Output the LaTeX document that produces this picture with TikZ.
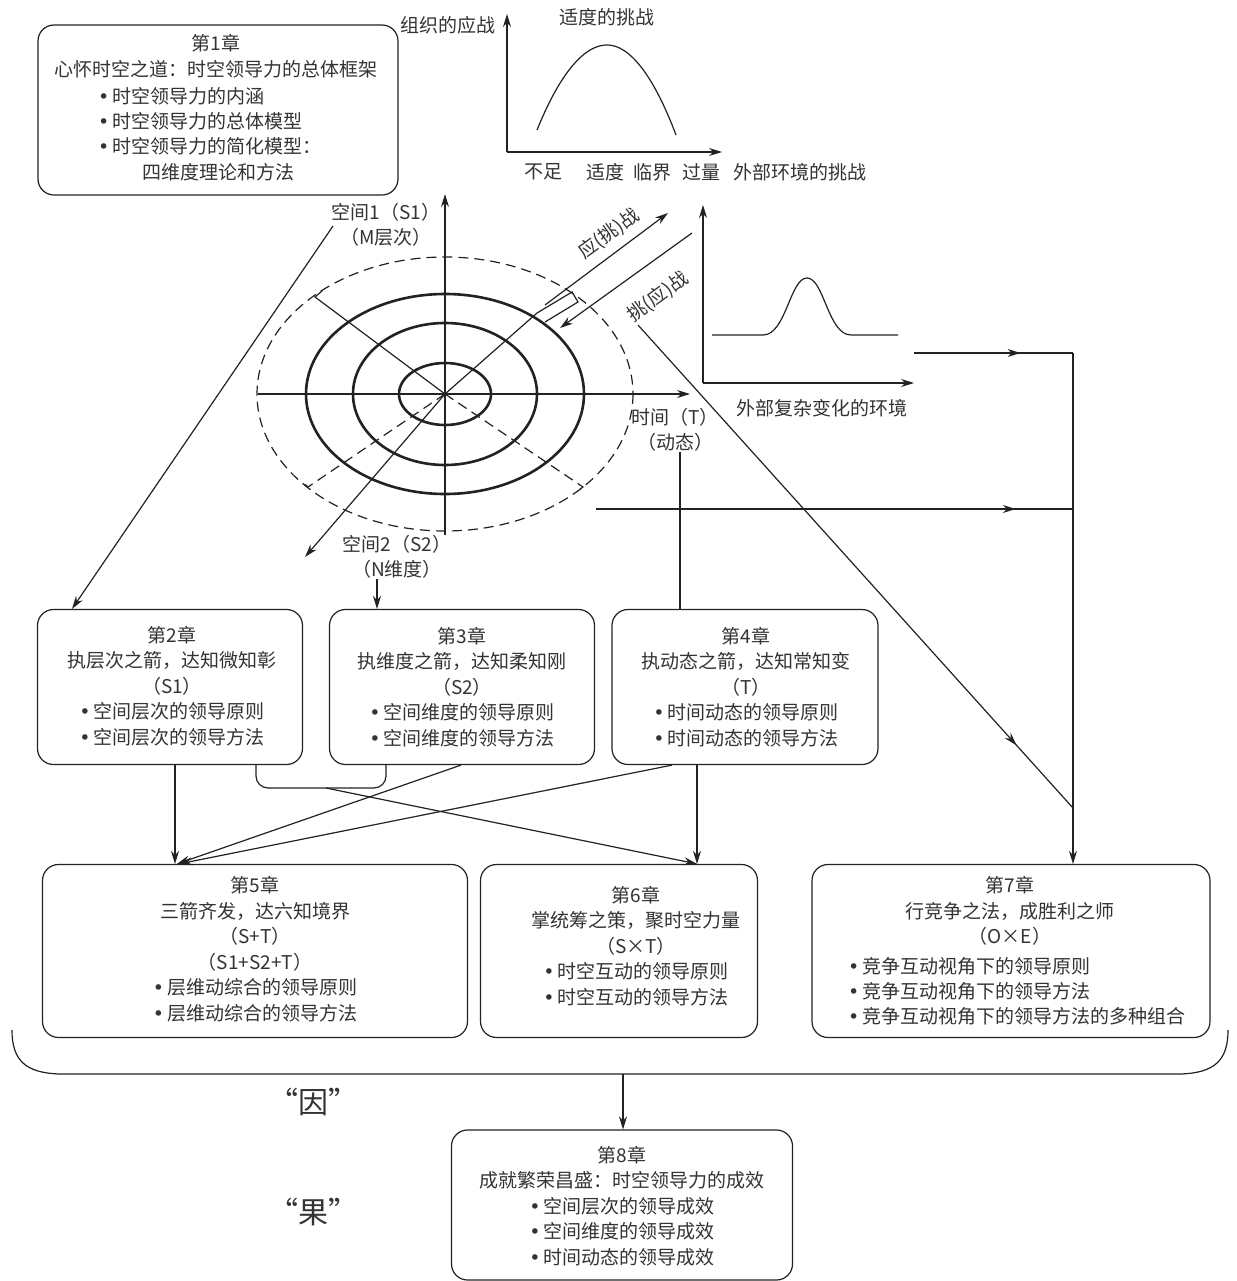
\documentclass[tikz,border=0pt]{standalone}
\usepackage{fontspec}
\setmainfont{Noto Sans CJK SC}
\newfontfamily\bulfont{DejaVu Sans}
\usetikzlibrary{arrows.meta,decorations.markings,calc}
\definecolor{ink}{HTML}{222222}
\definecolor{txt}{HTML}{333333}
\newcommand\bl{{\bulfont •}\hspace{3pt}}
\tikzset{
  every node/.style={text=txt},
  ln/.style={draw=ink,line width=1.2pt},
  arr/.style={ln,-{Stealth[length=13pt,width=8pt]}},
  midarr/.style={ln,postaction={decorate},decoration={markings,mark=at position #1 with {\arrow{Stealth[length=13pt,width=8pt]}}}},
  chbox/.style={draw=ink,line width=1.2pt,rounded corners=16pt,inner sep=0pt},
  chtext/.style={align=center,font=\fontsize{19}{25.5}\selectfont,inner sep=0pt},
  chleft/.style={align=left,anchor=west,font=\fontsize{19}{25}\selectfont,inner sep=0pt},
  lab/.style={font=\fontsize{19}{25}\selectfont,inner sep=0pt,align=center},
  big/.style={font=\fontsize{30}{32}\selectfont,inner sep=0pt},
  thickell/.style={draw=ink,line width=2.6pt},
  dsh/.style={draw=ink,line width=1.2pt,dash pattern=on 10pt off 6pt}
}
\begin{document}
\begin{tikzpicture}[x=1pt,y=-1pt]
\useasboundingbox (0,0) rectangle (1236,1281);
\fill[white] (0,0) rectangle (1236,1281);

% ---------- chapter boxes ----------
\node[chbox,minimum width=360pt,minimum height=170pt] (b1) at (218,110) {};
\node[chtext] (t1a) at (216,56) {第1章\\心怀时空之道：时空领导力的总体框架};
\node[chleft] (t1b) at (98,121) {\bl 时空领导力的内涵\\\bl 时空领导力的总体模型\\\bl 时空领导力的简化模型：};
\node[chtext] (t1c) at (218,172) {四维度理论和方法};

\node[chbox,minimum width=265pt,minimum height=155pt] (b2) at (170,687) {};
\node[chtext] (t2) at (172,686) {第2章\\执层次之箭，达知微知彰\\（S1）\\\bl 空间层次的领导原则\\\bl 空间层次的领导方法};

\node[chbox,minimum width=265pt,minimum height=155pt] (b3) at (462,687) {};
\node[chtext] (t3) at (462,687) {第3章\\执维度之箭，达知柔知刚\\（S2）\\\bl 空间维度的领导原则\\\bl 空间维度的领导方法};

\node[chbox,minimum width=266pt,minimum height=155pt] (b4) at (745,687) {};
\node[chtext] (t4) at (746,687) {第4章\\执动态之箭，达知常知变\\（T）\\\bl 时间动态的领导原则\\\bl 时间动态的领导方法};

\node[chbox,minimum width=425pt,minimum height=173pt] (b5) at (255,951) {};
\node[chtext] (t5) at (255,949) {第5章\\三箭齐发，达六知境界\\（S+T）\\（S1+S2+T）\\\bl 层维动综合的领导原则\\\bl 层维动综合的领导方法};

\node[chbox,minimum width=277pt,minimum height=173pt] (b6) at (619,951) {};
\node[chtext] (t6) at (636,946) {第6章\\掌统筹之策，聚时空力量\\（S×T）\\\bl 时空互动的领导原则\\\bl 时空互动的领导方法};

\node[chbox,minimum width=398pt,minimum height=173pt] (b7) at (1011,951) {};
\node[chtext] (t7a) at (1010,911) {第7章\\行竞争之法，成胜利之师\\（O×E）};
\node[chleft] (t7b) at (848,991) {\bl 竞争互动视角下的领导原则\\\bl 竞争互动视角下的领导方法\\\bl 竞争互动视角下的领导方法的多种组合};

\node[chbox,minimum width=341pt,minimum height=150pt] (b8) at (622,1205) {};
\node[chtext] (t8) at (622,1206) {第8章\\成就繁荣昌盛：时空领导力的成效\\\bl 空间层次的领导成效\\\bl 空间维度的领导成效\\\bl 时间动态的领导成效};

% ---------- top graph ----------
\coordinate (g1o) at (507,152);
\draw[arr] (g1o) -- (507,14);
\draw[arr] (g1o) -- (722,152);
\draw[ln] (537,130) parabola bend (607,45) (676,135);
\node[lab] (g1y) at (448,25) {组织的应战};
\node[lab] (g1t) at (607,17) {适度的挑战};
\node[lab] (g1a) at (543,172) {不足};
\node[lab] (g1b) at (605,172) {适度};
\node[lab] (g1c) at (652,172) {临界};
\node[lab] (g1d) at (701,172) {过量};
\node[lab] (g1x) at (800,172) {外部环境的挑战};

% ---------- right graph ----------
\coordinate (g2o) at (703,383);
\draw[arr] (g2o) -- (703,205);
\draw[arr] (g2o) -- (914,383);
\draw[ln] (712,335) -- (763,335) .. controls (786,335) and (790,278) .. (807,278) .. controls (824,278) and (828,335) .. (851,335) -- (898,335);
\node[lab] (g2x) at (822,408) {外部复杂变化的环境};

% ---------- central model ----------
\coordinate (C) at (445,394);
\draw[dsh] (C) ellipse [x radius=188, y radius=137];
\draw[thickell] (C) ellipse [x radius=139, y radius=100];
\draw[thickell] (C) ellipse [x radius=92, y radius=71];
\draw[thickell] (C) ellipse [x radius=46, y radius=31];
\draw[arr] (445,535) -- (445,194);
\draw[arr] (258,394) -- (690,394);
% NW-SE line
\draw[ln] (322,291) -- (315,297) -- (C);
\draw[dsh] (C) -- (583,487) -- (576,492);
% SW dashed
\draw[dsh] (C) -- (308,487) -- (301,481);
% S2 axis
\draw[arr] (C) -- (305,557);
\draw[ln] (C) -- (537,313);
% bracket
\draw[ln] (537,313) -- (572,292) -- (578,302) -- (545,322);
\draw[arr] (545,305) -- (668,213);
\draw[arr] (692,233) -- (560,328);
\node[lab,rotate=36] (yt) at (609,234) {应(挑)战};
\node[lab,rotate=36] (ty) at (658,297) {挑(应)战};

\node[lab] (s1) at (386,225) {空间1（S1）\\（M层次）};
\node[lab] (s2) at (397,557) {空间2（S2）\\（N维度）};
\node[lab] (tt) at (675,430) {时间（T）\\（动态）};

% ---------- connectors ----------
\coordinate (s1s) at (333,226);
\draw[arr] (s1s) -- (b2.north -| 72,0);
\draw[arr] (s2.south -| 377,0) -- (b3.north -| 377,0);
\draw[ln] (tt.south -| 680,0) -- (b4.north -| 680,0);

\draw[arr] (b2.south -| 175,0) -- (b5.north -| 175,0);
\draw[ln,rounded corners=12pt] (b2.south -| 256,0) -- (256,788) -- (386,788) -- (b3.south -| 386,0);
\draw[arr] (326,788) -- (b6.north -| 697,0);
\draw[arr] (b3.south -| 461,0) -- (b5.north -| 177,0);
\draw[arr] (b4.south -| 672,0) -- (b5.north -| 179,0);
\draw[arr] (b4.south -| 697,0) -- (b6.north -| 697,0);

% right side
\coordinate (r1) at (914,353);
\coordinate (r2) at (596,509);
\coordinate (rj1) at (1073,353);
\coordinate (rj2) at (1073,509);
\coordinate (rj3) at (1073,808);
\draw[midarr=0.67] (r1) -- (rj1);
\draw[midarr=0.88] (r2) -- (rj2);
\draw[midarr=0.87] (638,325) -- (rj3);
\draw[arr] (rj1) -- (b7.north -| rj1);

% brace and result
\draw[ln] (12,1030) .. controls (12,1060) and (25,1073) .. (60,1074) -- (1180,1074) .. controls (1215,1073) and (1228,1060) .. (1228,1030);
\coordinate (bc) at (623,1074);
\draw[arr] (bc) -- (b8.north -| bc);
\node[big] (yin) at (313,1102) {“因”};
\node[big] (guo) at (313,1212) {“果”};
\end{tikzpicture}
\end{document}
